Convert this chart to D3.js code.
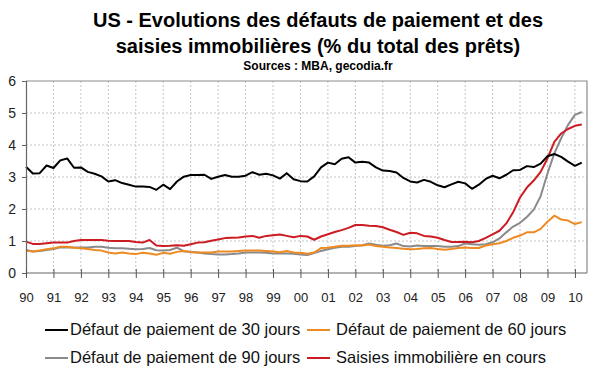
<!DOCTYPE html>
<html>
<head>
<meta charset="utf-8">
<script src="https://cdnjs.cloudflare.com/ajax/libs/d3/7.8.5/d3.min.js"></script>
<style>
  html, body { margin: 0; padding: 0; background: #fff; }
  svg { display: block; font-family: "Liberation Sans", Arial, sans-serif; }
</style>
</head>
<body>
<svg id="chart" width="600" height="372"></svg>
<script>
// ---- Data (quarterly, 1990 Q1 .. 2010 Q2) ----
const startYear = 1990;
const quarterCount = 82;
const quarters = d3.range(quarterCount).map(i => startYear + i / 4);

const tickYears = d3.range(1990, 2011);
const tickLabels = ["90","91","92","93","94","95","96","97","98","99","00","01","02","03","04","05","06","07","08","09","10"];
const yTicks = [0, 1, 2, 3, 4, 5, 6];

const seriesNames = [
  "Défaut de paiement de 30 jours",
  "Défaut de paiement de 60 jours",
  "Défaut de paiement de 90 jours",
  "Saisies immobilière en cours"
];
const seriesColors = ["#000000", "#ee8a22", "#8a8a8a", "#cc1b22"];

const delinq30 = [
  3.32, 3.11, 3.12, 3.36,  3.28, 3.52, 3.58, 3.29,  3.30, 3.16, 3.10, 3.02,
  2.86, 2.90, 2.81, 2.76,  2.70, 2.70, 2.69, 2.60,  2.76, 2.62, 2.86, 3.01,
  3.06, 3.06, 3.07, 2.94,  3.01, 3.06, 3.01, 3.01,  3.04, 3.15, 3.07, 3.10,
  3.05, 2.95, 3.12, 2.93,  2.87, 2.86, 3.02, 3.30,  3.45, 3.40, 3.57, 3.62,
  3.45, 3.48, 3.45, 3.30,  3.20, 3.19, 3.14, 2.97,  2.86, 2.83, 2.91, 2.85,
  2.74, 2.68, 2.77, 2.85,  2.80, 2.63, 2.76, 2.94,  3.04, 2.96, 3.07, 3.21,
  3.22, 3.34, 3.31, 3.42,  3.65, 3.72, 3.63, 3.48,  3.35, 3.45
];
const delinq60 = [
  0.70, 0.67, 0.70, 0.74,  0.77, 0.82, 0.82, 0.79,  0.77, 0.75, 0.72, 0.70,
  0.64, 0.61, 0.64, 0.61,  0.59, 0.63, 0.61, 0.57,  0.63, 0.60, 0.66, 0.69,
  0.66, 0.64, 0.64, 0.64,  0.67, 0.67, 0.67, 0.69,  0.70, 0.70, 0.70, 0.69,
  0.67, 0.65, 0.69, 0.64,  0.63, 0.60, 0.64, 0.78,  0.79, 0.82, 0.85, 0.85,
  0.87, 0.86, 0.89, 0.84,  0.82, 0.80, 0.78, 0.76,  0.74, 0.75, 0.77, 0.78,
  0.75, 0.73, 0.75, 0.78,  0.80, 0.78, 0.78, 0.86,  0.90, 0.93, 1.00, 1.10,
  1.17, 1.27, 1.27, 1.38,  1.60, 1.79, 1.67, 1.64,  1.53, 1.59
];
const delinq90 = [
  0.72, 0.67, 0.69, 0.72,  0.75, 0.80, 0.80, 0.80,  0.80, 0.80, 0.82, 0.82,
  0.79, 0.77, 0.77, 0.76,  0.74, 0.75, 0.78, 0.71,  0.70, 0.72, 0.79, 0.68,
  0.66, 0.64, 0.61, 0.59,  0.58, 0.58, 0.59, 0.61,  0.64, 0.64, 0.64, 0.63,
  0.61, 0.61, 0.61, 0.60,  0.58, 0.56, 0.62, 0.69,  0.74, 0.79, 0.82, 0.82,
  0.84, 0.87, 0.92, 0.88,  0.85, 0.87, 0.92, 0.84,  0.83, 0.86, 0.84, 0.84,
  0.84, 0.82, 0.82, 0.84,  0.92, 0.90, 0.88, 0.90,  0.96, 1.08, 1.27, 1.45,
  1.57, 1.75, 1.98, 2.40,  3.11, 3.74, 4.21, 4.63,  4.94, 5.03
];
const foreclosures = [
  0.98, 0.91, 0.91, 0.93,  0.95, 0.95, 0.95, 1.00,  1.03, 1.03, 1.03, 1.03,
  1.01, 1.00, 1.00, 1.00,  0.97, 0.95, 1.03, 0.86,  0.84, 0.85, 0.87, 0.85,
  0.90, 0.95, 0.96, 1.01,  1.05, 1.09, 1.10, 1.11,  1.14, 1.16, 1.10, 1.16,
  1.18, 1.20, 1.16, 1.12,  1.16, 1.14, 1.04, 1.14,  1.21, 1.28, 1.34, 1.41,
  1.50, 1.50, 1.48, 1.47,  1.43, 1.35, 1.28, 1.19,  1.26, 1.24, 1.16, 1.14,
  1.10, 1.03, 0.97, 0.97,  0.98, 0.96, 1.00, 1.10,  1.21, 1.32, 1.55, 1.90,
  2.36, 2.67, 2.89, 3.16,  3.58, 4.10, 4.36, 4.50,  4.60, 4.64
];

const seriesValues = [delinq30, delinq60, delinq90, foreclosures];
// draw order: 90, 60, foreclosures, 30 on top
const drawOrder = [2, 1, 3, 0];

// ---- Layout ----
const svg = d3.select("#chart");
const plotL = 26, plotR = 587, plotT = 81, plotB = 273;

const x = d3.scaleLinear().domain([1990, 2010.44]).range([plotL, plotR]);
const y = d3.scaleLinear().domain([0, 6]).range([plotB, plotT]);

// Titles
svg.append("text").attr("x", 318).attr("y", 27).attr("text-anchor", "middle")
  .attr("font-size", 20).attr("font-weight", "bold").attr("fill", "#000")
  .text("US - Evolutions des défauts de paiement et des");
svg.append("text").attr("x", 318).attr("y", 53).attr("text-anchor", "middle")
  .attr("font-size", 20).attr("font-weight", "bold").attr("fill", "#000")
  .text("saisies immobilières (% du total des prêts)");
svg.append("text").attr("x", 318).attr("y", 70).attr("text-anchor", "middle")
  .attr("font-size", 12).attr("font-weight", "bold").attr("fill", "#000")
  .text("Sources : MBA, gecodia.fr");

// Gridlines
const grid = svg.append("g");
grid.selectAll("line.h").data(yTicks.filter(v => v > 0 && v < 6)).join("line")
  .attr("class", "h")
  .attr("x1", plotL).attr("x2", plotR)
  .attr("y1", d => y(d)).attr("y2", d => y(d))
  .attr("stroke", "#c4c4c4").attr("stroke-width", 1).attr("stroke-dasharray", "2,2");
grid.selectAll("line.v").data(tickYears.slice(1)).join("line")
  .attr("class", "v")
  .attr("x1", d => x(d)).attr("x2", d => x(d))
  .attr("y1", plotT).attr("y2", plotB)
  .attr("stroke", "#c4c4c4").attr("stroke-width", 1).attr("stroke-dasharray", "2,2");

// Plot border (top & right)
svg.append("path")
  .attr("d", `M${plotL},${plotT}H${plotR}V${plotB}`)
  .attr("fill", "none").attr("stroke", "#8c8c8c").attr("stroke-width", 1.2);

// Lines
const line = d3.line().x((d, i) => x(quarters[i])).y(d => y(d));
drawOrder.forEach(k => {
  svg.append("path")
    .datum(seriesValues[k])
    .attr("d", line)
    .attr("fill", "none")
    .attr("stroke", seriesColors[k])
    .attr("stroke-width", 2)
    .attr("stroke-linejoin", "round");
});

// Y axis
const yAxis = svg.append("g").attr("transform", `translate(${plotL},0)`)
  .call(d3.axisLeft(y).tickValues(yTicks).tickSize(4).tickPadding(6).tickFormat(d3.format("d")));
yAxis.select(".domain").attr("stroke", "#666").attr("stroke-width", 1.2);
yAxis.selectAll(".tick line").attr("stroke", "#666");
yAxis.selectAll(".tick text").attr("font-size", 14).attr("fill", "#222")
  .attr("font-family", "Liberation Sans, Arial, sans-serif");

// X axis
const xAxis = svg.append("g").attr("transform", `translate(0,${plotB})`)
  .call(d3.axisBottom(x).tickValues(tickYears).tickSize(5).tickFormat((d, i) => tickLabels[i]));
xAxis.select(".domain").attr("stroke", "#666").attr("stroke-width", 1.2).attr("d", `M${plotL},0H${plotR}`);
xAxis.selectAll(".tick line").attr("stroke", "#555").attr("y1", -4).attr("y2", 5);
xAxis.selectAll(".tick text").attr("font-size", 13).attr("fill", "#222")
  .attr("y", 29).attr("dy", 0)
  .attr("font-family", "Liberation Sans, Arial, sans-serif");

// Legend
const legendPos = [
  { lx: 45, tx: 70, by: 335 },
  { lx: 307, tx: 336, by: 335 },
  { lx: 45, tx: 70, by: 363 },
  { lx: 307, tx: 336, by: 363 }
];
const legend = svg.append("g");
seriesNames.forEach((name, i) => {
  const p = legendPos[i];
  legend.append("line")
    .attr("x1", p.lx).attr("x2", p.lx + 23)
    .attr("y1", p.by - 5).attr("y2", p.by - 5)
    .attr("stroke", seriesColors[i]).attr("stroke-width", 2);
  legend.append("text")
    .attr("x", p.tx).attr("y", p.by)
    .attr("font-size", 16.5).attr("fill", "#111")
    .text(name);
});
</script>
</body>
</html>
